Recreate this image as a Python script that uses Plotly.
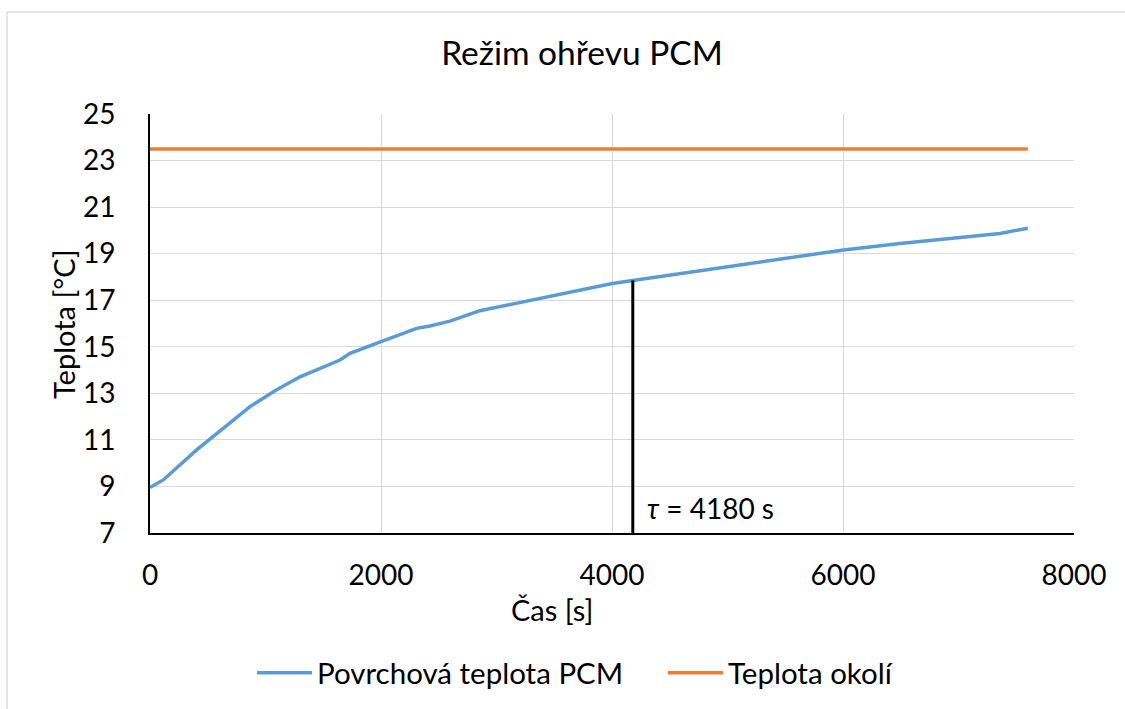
import plotly.graph_objects as go

# ---- data ----
time_s = [0, 115, 404, 693, 808, 866, 1082, 1299, 1645, 1732, 2000, 2309, 2424,
          2597, 2857, 3290, 3723, 4003, 4180, 4877, 5628, 6005, 6494, 7071, 7359, 7600]
surface_temp = [8.95, 9.28, 10.57, 11.71, 12.2, 12.43, 13.11, 13.71, 14.43, 14.72, 15.22,
                15.79, 15.89, 16.1, 16.55, 17.0, 17.44, 17.72, 17.85, 18.34, 18.9, 19.16,
                19.44, 19.73, 19.87, 20.09]
ambient_time = [0, 7600]
ambient_temp = [23.5, 23.5]
tau_value = 4180
tau_temp = 17.85
y_min = 7

x_ticks = [0, 2000, 4000, 6000, 8000]
y_ticks = [7, 9, 11, 13, 15, 17, 19, 21, 23, 25]

FONT = "Lato"
W, H = 1125, 709
L, R, T, B = 150, 51, 114, 176
pw, ph = W - L - R, H - T - B

def px(xp):
    return (xp - L) / pw

def py(yp):
    return (H - B - yp) / ph

fig = go.Figure()
fig.add_trace(go.Scatter(x=time_s, y=surface_temp, mode="lines",
                         name="Povrchová teplota PCM",
                         line=dict(color="#5B9BD5", width=3.5)))
fig.add_trace(go.Scatter(x=ambient_time, y=ambient_temp, mode="lines",
                         name="Teplota okolí",
                         line=dict(color="#ED7D31", width=3.5)))
fig.add_trace(go.Scatter(x=[tau_value, tau_value], y=[y_min, tau_temp], mode="lines",
                         showlegend=False, hoverinfo="skip",
                         line=dict(color="black", width=3)))

fig.update_layout(
    width=W, height=H,
    margin=dict(l=L, r=R, t=T, b=B, autoexpand=False),
    paper_bgcolor="white", plot_bgcolor="white",
    font=dict(family=FONT, color="black", size=28),
    title=dict(text="Režim ohřevu PCM", x=px(582), xref="paper", xanchor="center",
               y=1 - 53 / H, yref="container", yanchor="middle",
               font=dict(family=FONT, size=33.5, color="black")),
    showlegend=True,
    legend=dict(orientation="h", x=px(663), xanchor="center", y=py(673), yanchor="middle",
                font=dict(family=FONT, size=29.5), itemwidth=55,
                entrywidth=341, entrywidthmode="pixels", bgcolor="rgba(0,0,0,0)"),
    xaxis=dict(range=[0, 8000], tickvals=x_ticks, showgrid=True, gridcolor="#d9d9d9",
               gridwidth=1.3, zeroline=False, showline=True, linecolor="black", linewidth=2,
               ticks="", ticklabelstandoff=16, tickfont=dict(family=FONT, size=28)),
    yaxis=dict(range=[7, 25], tickvals=y_ticks, showgrid=True, gridcolor="#d9d9d9",
               gridwidth=1.3, zeroline=False, showline=True, linecolor="black", linewidth=2,
               ticks="", ticklabelstandoff=27, tickfont=dict(family=FONT, size=28)),
    annotations=[
        dict(text="Čas [s]", x=px(552), y=py(609), xref="paper", yref="paper",
             xanchor="center", yanchor="middle", showarrow=False,
             font=dict(family=FONT, size=29)),
        dict(text="Teplota [°C]", x=px(63), y=py(324), xref="paper", yref="paper",
             xanchor="center", yanchor="middle", textangle=-90, showarrow=False,
             font=dict(family=FONT, size=29)),
        dict(text="<i>τ</i> = 4180 s", x=tau_value, xref="x", xanchor="left", xshift=12,
             y=py(508), yref="paper", yanchor="middle", showarrow=False,
             font=dict(family=FONT, size=28)),
    ],
    shapes=[
        dict(type="line", xref="paper", yref="paper", x0=px(7), x1=px(7), y0=py(12), y1=py(709),
             line=dict(color="#d9d9d9", width=1.3)),
        dict(type="line", xref="paper", yref="paper", x0=px(7), x1=px(1125), y0=py(12), y1=py(12),
             line=dict(color="#d9d9d9", width=1.3)),
    ],
)

fig.write_html("out.html", config={"displayModeBar": False},
               post_script="document.body.style.margin='0';")
